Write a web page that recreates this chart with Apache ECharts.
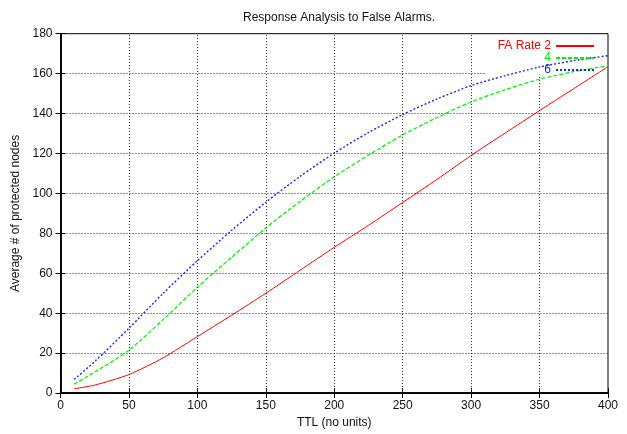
<!DOCTYPE html>
<html>
<head>
<meta charset="utf-8">
<script src="https://cdn.jsdelivr.net/npm/echarts@6/dist/echarts.min.js"></script>
<style>html,body{margin:0;padding:0;background:#fff}#c{width:627px;height:434px}</style>
</head>
<body>
<div id="c"></div>
<script>
var ttl = [10, 25, 50, 75, 100, 125, 150, 175, 200, 225, 250, 275, 300, 325, 350, 375, 400];
var rate2 = [2.2, 4, 9.3, 17.7, 28.3, 39, 50, 61.5, 73, 84, 95.5, 107, 119, 130.3, 141.5, 152.5, 163.5];
var rate4 = [4.5, 10.5, 21.5, 36.8, 53, 68, 82.7, 96, 108.3, 119.2, 129.3, 138, 145.8, 152, 157.2, 161, 164];
var rate6 = [6.9, 15.8, 32.5, 50, 66.3, 81.5, 95.6, 108.5, 120.2, 130.5, 139.5, 147.3, 154, 159, 163.3, 166.5, 169];
var seriesNames = ['FA Rate 2', '4', '6'];
var xTicks = [0, 50, 100, 150, 200, 250, 300, 350, 400];
var yTicks = [0, 20, 40, 60, 80, 100, 120, 140, 160, 180];
// key box area (data units) where gnuplot leaves the grid blank
var keyLeftX = 311;
var keyBottomY = 159.5;

function pairs(ys) { return ttl.map(function (x, i) { return [x, ys[i]]; }); }

var font = 'Liberation Sans, Arial, Helvetica, sans-serif';
var colors = ['#ff0000', '#00ee00', '#2222ff'];
var dashes = ['solid', [4, 2], [2, 2]];
var widths = [1, 1.2, 1.4];
var data = [rate2, rate4, rate6];
var xMin = xTicks[0], xMax = xTicks[xTicks.length - 1];
var yMin = yTicks[0], yMax = yTicks[yTicks.length - 1];

var chart = echarts.init(document.getElementById('c'), null, {renderer: 'canvas'});

// grid lines as mark lines, leaving the key box blank
var gridMarks = [];
yTicks.slice(1, -1).forEach(function (y) {
  var xEnd = (y >= keyBottomY) ? keyLeftX : xMax;
  gridMarks.push([{coord: [xMin, y]}, {coord: [xEnd, y]}]);
});
xTicks.slice(1, -1).forEach(function (x) {
  var yEnd = (x >= keyLeftX) ? keyBottomY : yMax;
  gridMarks.push([{coord: [x, yMin]}, {coord: [x, yEnd]}]);
});

var xAxisBase = {type: 'value', min: xMin, max: xMax, interval: xTicks[1] - xTicks[0]};
var yAxisBase = {type: 'value', min: yMin, max: yMax, interval: yTicks[1] - yTicks[0]};
var axisLineStyle = {show: true, lineStyle: {color: '#000', width: 1.5}};
var tickStyle = {show: true, inside: true, length: 5, lineStyle: {color: '#000'}};

var legends = seriesNames.map(function (n, i) {
  return {
    data: [{name: n}],
    right: 32, top: 40 + i * 12,
    orient: 'vertical', align: 'right', padding: 0,
    itemWidth: 38, itemHeight: 8, selectedMode: false,
    itemStyle: {opacity: 0},
    textStyle: {color: colors[i], fontSize: 12, fontFamily: font}
  };
});

var series = [{
  name: 'grid', type: 'line', data: [], z: 1, silent: true,
  markLine: {
    silent: true, symbol: ['none', 'none'], animation: false,
    label: {show: false},
    lineStyle: {color: '#222', width: 1, type: [1, 2]},
    emphasis: {disabled: true},
    data: gridMarks
  }
}].concat(seriesNames.map(function (n, i) {
  return {
    name: n, type: 'line', xAxisIndex: 0, yAxisIndex: 0, z: 2,
    data: pairs(data[i]),
    showSymbol: false, symbol: 'none', smooth: 0.25,
    color: colors[i],
    lineStyle: {color: colors[i], width: widths[i], type: dashes[i]}
  };
}));

chart.setOption({
  animation: false,
  title: {
    text: 'Response Analysis to False Alarms.',
    left: 334, top: 7, textAlign: 'center',
    textStyle: {fontSize: 12, fontWeight: 'normal', color: '#111', fontFamily: font}
  },
  legend: legends,
  grid: {left: 60.5, right: 19, top: 33.7, bottom: 37.3, show: true, borderColor: '#000', borderWidth: 1},
  xAxis: [
    Object.assign({}, xAxisBase, {
      position: 'bottom',
      name: 'TTL (no units)', nameLocation: 'middle', nameGap: 17,
      nameTextStyle: {fontSize: 12, color: '#111', fontFamily: font},
      axisLine: axisLineStyle, axisTick: tickStyle,
      axisLabel: {fontSize: 12, color: '#111', margin: 7, fontFamily: font},
      splitLine: {show: false}
    }),
    Object.assign({}, xAxisBase, {
      position: 'top', axisLine: axisLineStyle, axisTick: tickStyle,
      axisLabel: {show: false}, splitLine: {show: false}
    })
  ],
  yAxis: [
    Object.assign({}, yAxisBase, {
      position: 'left',
      name: 'Average # of protected nodes', nameLocation: 'middle', nameGap: 34,
      nameTextStyle: {fontSize: 12, color: '#111', fontFamily: font},
      axisLine: axisLineStyle, axisTick: tickStyle,
      axisLabel: {fontSize: 12, color: '#111', margin: 8, fontFamily: font},
      splitLine: {show: false}
    }),
    Object.assign({}, yAxisBase, {
      position: 'right', axisLine: axisLineStyle, axisTick: tickStyle,
      axisLabel: {show: false}, splitLine: {show: false}
    })
  ],
  series: series
});
</script>
</body>
</html>
